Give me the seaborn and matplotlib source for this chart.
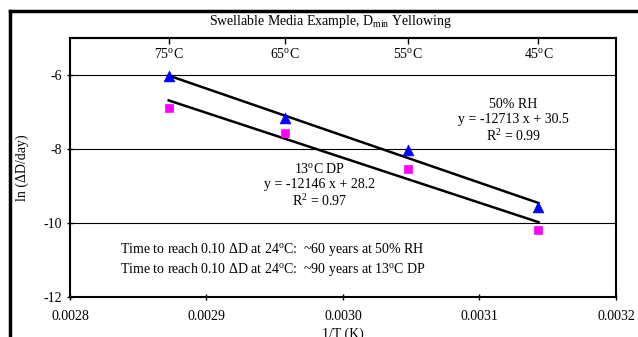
import matplotlib
matplotlib.use("Agg")
import matplotlib.pyplot as plt
import seaborn as sns
import pandas as pd
import numpy as np
from matplotlib.lines import Line2D

# ---- data ----
temps_c = [75, 65, 55, 45]
inv_T = [0.0028723, 0.0029573, 0.0030474, 0.0031432]
rh50_ln = [-6.04, -7.16, -8.03, -9.57]
dp13_ln = [-6.89, -7.57, -8.54, -10.19]
fit_slope = [-12713, -12146]
fit_icpt = [30.5, 28.2]
x_ticks = [0.0028, 0.0029, 0.0030, 0.0031, 0.0032]
y_ticks = [-12, -10, -8, -6]

plt.rcParams['font.family'] = ['Liberation Serif', 'DejaVu Serif']
plt.rcParams['mathtext.fontset'] = 'custom'
plt.rcParams['mathtext.rm'] = 'Liberation Serif'
plt.rcParams['mathtext.it'] = 'Liberation Serif:italic'

FS = 10

fig = plt.figure(figsize=(6.38, 3.37), dpi=100)
ax = fig.add_axes([70/638, 1-297/337, 546/638, (297-38)/337])

# gridlines
for yv in [-10, -8, -6]:
    ax.axhline(yv, color='black', lw=0.8, zorder=1)

df = pd.DataFrame({'x': inv_T * 2, 'y': rh50_ln + dp13_ln,
                   'series': ['50% RH'] * 4 + ['13C DP'] * 4})

# fit lines
for s, b in zip(fit_slope, fit_icpt):
    xs = [inv_T[0], inv_T[-1]]
    ys = [s * xv + b for xv in xs]
    sns.lineplot(x=xs, y=ys, ax=ax, color='black', lw=1.8, zorder=2)

sns.scatterplot(data=df[df.series == '50% RH'], x='x', y='y', ax=ax, marker='^',
                color='#0000FF', s=60, edgecolor='#0000FF', linewidth=0.5, zorder=3)
sns.scatterplot(data=df[df.series == '13C DP'], x='x', y='y', ax=ax, marker='s',
                color='#FF00FF', s=40, edgecolor='#FF00FF', linewidth=0.5, zorder=3)

ax.set_xlim(0.0028, 0.0032)
ax.set_ylim(-12, -5)
ax.set_xticks(x_ticks)
ax.set_xticklabels([f"{v:.4f}" for v in x_ticks])
ax.set_yticks(y_ticks)
ax.set_yticklabels([str(v) for v in y_ticks])
ax.tick_params(axis='both', direction='inout', length=5, width=1, labelsize=FS, colors='black')
ax.tick_params(axis='x', pad=7)
for sp in ax.spines.values():
    sp.set_linewidth(1.5)
    sp.set_color('black')

ax.set_xlabel('1/T (K)', fontsize=FS, labelpad=3)
ax.set_ylabel('ln (ΔD/day)', fontsize=FS, labelpad=10)

# top temperature axis
sec = ax.secondary_xaxis('top')
sec.set_xticks(inv_T)
sec.set_xticklabels([f"{t}$^{{\\mathrm{{o}}}}$C" for t in temps_c])
sec.tick_params(direction='in', length=4, width=1, labelsize=FS, pad=-16.5)
sec.spines['top'].set_linewidth(1.5)

# annotations
ax.text(0.003125, -7.24, '50% RH\ny = -12713 x + 30.5\nR$^{2}$ = 0.99',
        ha='center', va='center', fontsize=FS, linespacing=1.2)
ax.text(0.002983, -8.99, '13$^{\\mathrm{o}}$C DP\ny = -12146 x + 28.2\nR$^{2}$ = 0.97',
        ha='center', va='center', fontsize=FS, linespacing=1.2)
ax.text(0.0028365, -10.98,
        'Time to reach 0.10 ΔD at 24$^{\\mathrm{o}}$C:  ~60 years at 50% RH\n'
        'Time to reach 0.10 ΔD at 24$^{\\mathrm{o}}$C:  ~90 years at 13$^{\\mathrm{o}}$C DP',
        ha='left', va='center', fontsize=FS, linespacing=1.25)

fig.text(330/638, 1-21.5/337, 'Swellable Media Example, D$_{\\mathrm{min}}$ Yellowing',
         ha='center', va='center', fontsize=FS)

# outer chart frame (cropped)
fig.add_artist(Line2D([10/638, 10/638], [0, 1-11/337], transform=fig.transFigure,
                      color='black', lw=2.5))
fig.add_artist(Line2D([10/638, 1], [1-11/337, 1-11/337], transform=fig.transFigure,
                      color='black', lw=2.5))

fig.savefig('out.png', dpi=100)
